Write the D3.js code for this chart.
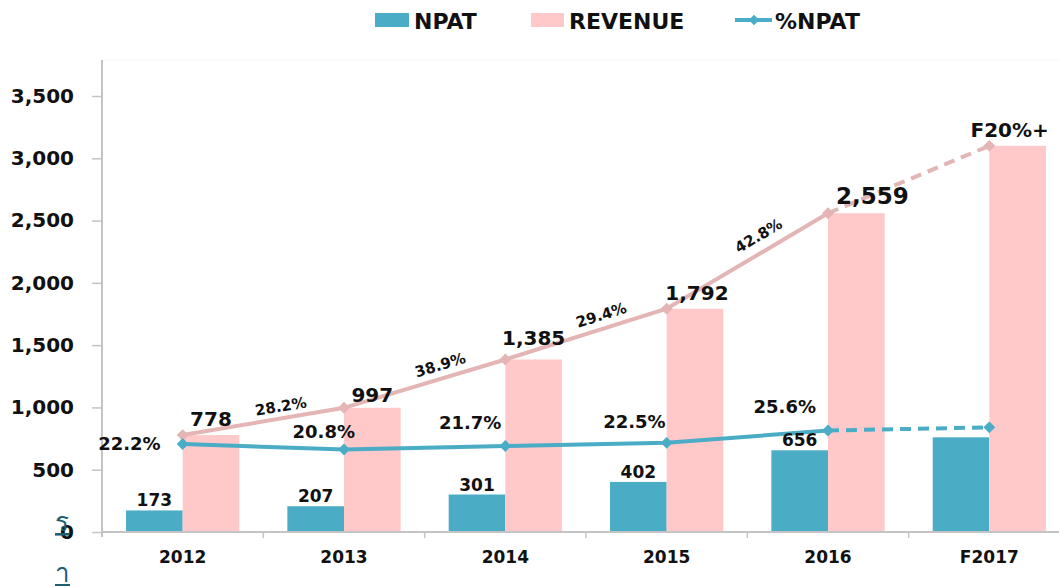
<!DOCTYPE html>
<html lang="en">
<head>
    <meta charset="UTF-8">
    <script src="https://cdn.jsdelivr.net/npm/d3@7"></script>
    <style>
        body { margin: 0; background: #ffffff; }
        text { font-family: "DejaVu Sans", Verdana, sans-serif; font-weight: bold; fill: #111; }
        .domain, .tick line { stroke: #c4c4c4; }
    </style>
</head>
<body>
<script>
    const years = ['2012', '2013', '2014', '2015', '2016', 'F2017'];
    const npat = [173, 207, 301, 402, 656, 760];
    const revenue = [778, 997, 1385, 1792, 2559, 3100];
    const pctNpat = [22.2, 20.8, 21.7, 22.5, 25.6, 26.4];
    const revGrowth = ['28.2%', '38.9%', '29.4%', '42.8%'];
    const forecastLabel = 'F20%+';
    const yTicks = [0, 500, 1000, 1500, 2000, 2500, 3000, 3500];

    const width = 1059, height = 586;
    const npatColor = '#4bacc6', revColor = '#ffc9c9', revLine = '#e3b5b4';

    const svg = d3.select('body').append('svg')
        .attr('width', width)
        .attr('height', height);

    const x = d3.scaleBand().domain(years).range([102, 1070]);
    const sub = d3.scaleBand().domain(['npat', 'rev']).range([0, x.bandwidth()]).paddingOuter(0.424);
    const y = d3.scaleLinear().domain([0, 3500]).range([532, 96]);
    const yPct = d3.scaleLinear().domain([0, 110]).range([532, 96]);
    const cx = d => x(d) + x.bandwidth() / 2;

    // faint plot frame top
    svg.append('line').attr('x1', 102).attr('x2', width).attr('y1', 60).attr('y2', 60)
        .attr('stroke', '#f3f3f3');

    // bars
    svg.selectAll('.npat').data(years).enter().append('rect')
        .attr('x', d => x(d) + sub('npat'))
        .attr('width', sub.bandwidth())
        .attr('y', (d, i) => y(npat[i]))
        .attr('height', (d, i) => y(0) - y(npat[i]))
        .attr('fill', npatColor);
    svg.selectAll('.rev').data(years).enter().append('rect')
        .attr('x', d => x(d) + sub('rev'))
        .attr('width', sub.bandwidth())
        .attr('y', (d, i) => y(revenue[i]))
        .attr('height', (d, i) => y(0) - y(revenue[i]))
        .attr('fill', revColor);

    // axes
    const yAxis = svg.append('g').attr('transform', 'translate(102,0)')
        .call(d3.axisLeft(y).tickValues(yTicks).tickSize(10).tickPadding(18).tickFormat(d3.format(',')));
    yAxis.select('.domain').remove();
    yAxis.selectAll('.tick line').attr('stroke-width', 1.5);
    yAxis.selectAll('text').style('font-size', '20px');
    svg.append('line').attr('x1', 102).attr('x2', 102).attr('y1', 60).attr('y2', 537)
        .attr('stroke', '#c4c4c4').attr('stroke-width', 2);
    svg.append('line').attr('x1', 102).attr('x2', width).attr('y1', 532).attr('y2', 532)
        .attr('stroke', '#c4c4c4').attr('stroke-width', 2);
    svg.selectAll('.xtick').data(years.slice(1)).enter().append('line')
        .attr('x1', d => x(d)).attr('x2', d => x(d))
        .attr('y1', 532).attr('y2', 538)
        .attr('stroke', '#c4c4c4').attr('stroke-width', 1.5);
    svg.selectAll('.xlab').data(years).enter().append('text')
        .attr('x', cx).attr('y', 563)
        .attr('text-anchor', 'middle')
        .style('font-size', '17px')
        .text(d => d);

    // lines
    const revPts = years.map((d, i) => [cx(d), y(revenue[i])]);
    const pctPts = years.map((d, i) => [cx(d), yPct(pctNpat[i])]);
    const line = d3.line();
    function drawLine(pts, color) {
        svg.append('path').attr('d', line(pts.slice(0, 5)))
            .attr('fill', 'none').attr('stroke', color).attr('stroke-width', 4);
        svg.append('path').attr('d', line(pts.slice(4)))
            .attr('fill', 'none').attr('stroke', color).attr('stroke-width', 4)
            .attr('stroke-dasharray', '11,7');
        svg.selectAll(null).data(pts).enter().append('path')
            .attr('d', d3.symbol(d3.symbolDiamond2, 90)())
            .attr('transform', p => `translate(${p[0]},${p[1]})`)
            .attr('fill', color);
    }
    drawLine(revPts, revLine);
    drawLine(pctPts, npatColor);

    // NPAT value labels
    svg.selectAll('.npatLab').data(npat.slice(0, 5)).enter().append('text')
        .attr('x', (d, i) => x(years[i]) + sub('npat') + sub.bandwidth() / 2)
        .attr('y', d => y(d) - 4)
        .attr('text-anchor', 'middle')
        .style('font-size', '17px')
        .text(d3.format(','));

    // revenue value labels
    const revNudge = [[0, 0], [0, 3], [0, -5], [2, 0], [16, 0], [-8, 0]];
    const revText = revenue.map((v, i) => i < 5 ? d3.format(',')(v) : forecastLabel);
    svg.selectAll('.revLab').data(revText).enter().append('text')
        .attr('x', (d, i) => x(years[i]) + sub('rev') + sub.bandwidth() / 2 + revNudge[i][0])
        .attr('y', (d, i) => y(revenue[i]) - 9 + revNudge[i][1])
        .attr('text-anchor', 'middle')
        .style('font-size', (d, i) => i === 4 ? '23px' : '20px')
        .text(d => d);

    // revenue growth labels along the line
    revGrowth.forEach((g, i) => {
        const a = revPts[i], b = revPts[i + 1];
        const dx = b[0] - a[0], dy = b[1] - a[1];
        const len = Math.hypot(dx, dy);
        const ux = dx / len, uy = dy / len;
        const off = 10 + 12 * Math.abs(uy);
        const t = 0.62;
        const px = a[0] + dx * t + uy * off;
        const py = a[1] + dy * t - ux * off;
        const ang = Math.atan2(dy, dx) * 180 / Math.PI;
        svg.append('text')
            .attr('transform', `translate(${px},${py}) rotate(${ang})`)
            .attr('text-anchor', 'middle')
            .attr('dy', '0.35em')
            .style('font-size', '15px')
            .text(g);
    });

    // %NPAT labels
    const pctNudge = [[-22, 6], [11, -12], [-4, -17], [-1, -15], [-12, -18]];
    svg.selectAll('.pctLab').data(pctNpat.slice(0, 5)).enter().append('text')
        .attr('x', (d, i) => pctPts[i][0] + pctNudge[i][0])
        .attr('y', (d, i) => pctPts[i][1] + pctNudge[i][1])
        .attr('text-anchor', 'end')
        .style('font-size', '18px')
        .text(d => d.toFixed(1) + '%');

    // legend
    const legend = svg.append('g');
    legend.append('rect').attr('x', 375).attr('y', 13).attr('width', 34).attr('height', 14).attr('fill', npatColor);
    legend.append('text').attr('x', 414).attr('y', 28.5).style('font-size', '22px').text('NPAT');
    legend.append('rect').attr('x', 531).attr('y', 13).attr('width', 33).attr('height', 14).attr('fill', revColor);
    legend.append('text').attr('x', 569).attr('y', 28.5).style('font-size', '22px').text('REVENUE');
    legend.append('line').attr('x1', 735).attr('x2', 772).attr('y1', 20).attr('y2', 20)
        .attr('stroke', npatColor).attr('stroke-width', 4);
    legend.append('path').attr('d', d3.symbol(d3.symbolDiamond2, 70)())
        .attr('transform', 'translate(754,20)').attr('fill', npatColor);
    legend.append('text').attr('x', 775).attr('y', 28.5).style('font-size', '22px').text('%NPAT');

    // stray clipped slide text at bottom-left
    const stray = svg.append('g').style('font-family', '"Noto Sans", "DejaVu Sans", sans-serif');
    stray.append('text').attr('x', 55).attr('y', 531).style('font-size', '26px').style('font-weight', 'normal')
        .style('fill', '#1f5f73').style('text-decoration', 'underline').text('ร');
    stray.append('text').attr('x', 55).attr('y', 582).style('font-size', '26px').style('font-weight', 'normal')
        .style('fill', '#1f5f73').style('text-decoration', 'underline').text('า');
</script>
</body>
</html>
